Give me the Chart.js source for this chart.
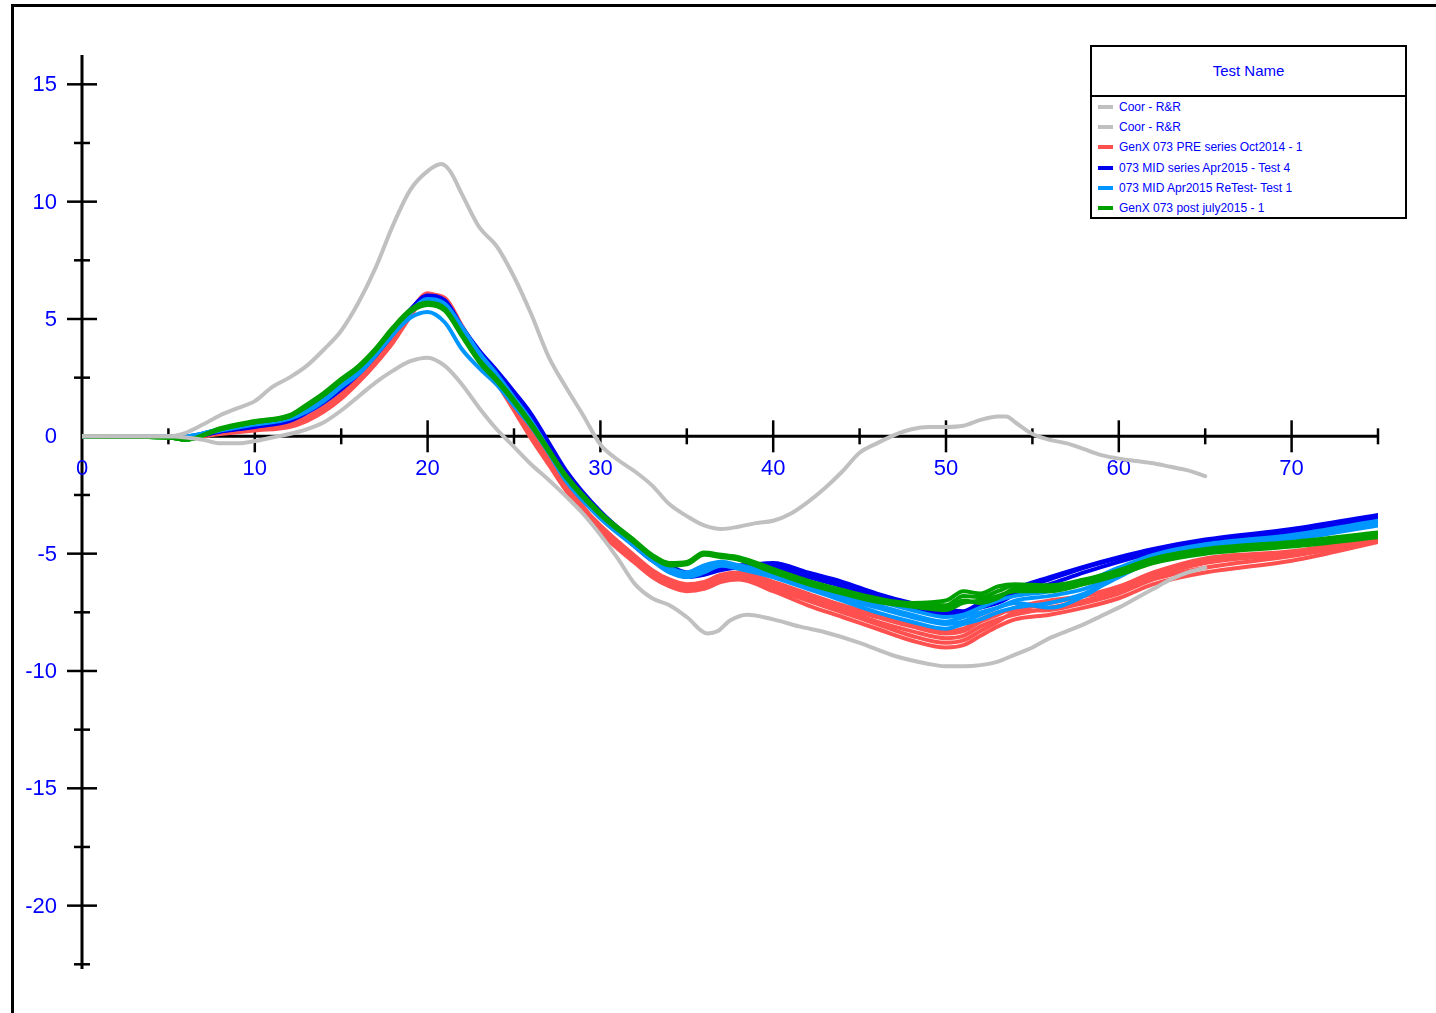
<!DOCTYPE html>
<html>
<head>
<meta charset="utf-8">
<script src="https://cdn.jsdelivr.net/npm/chart.js@4.4.1/dist/chart.umd.min.js"></script>
<style>
html,body{margin:0;padding:0;background:#fff;}
#wrap{position:relative;width:1436px;height:1013px;overflow:hidden;}
#chartBox{position:absolute;left:0;top:0;width:1436px;height:1013px;}
#legend{position:absolute;left:1090px;top:45px;width:313px;height:170px;border:2px solid #000;background:#fff;
  font-family:"Liberation Sans",Arial,Helvetica,sans-serif;color:#0000ff;}
#legend .title{height:48px;border-bottom:2px solid #000;text-align:center;line-height:48px;font-size:15px;}
#legend .row{position:relative;height:20.2px;line-height:20.2px;font-size:12px;white-space:nowrap;}
#legend .sw{position:absolute;left:6px;top:8px;width:15px;height:4px;}
#legend .lb{position:absolute;left:27px;top:0;}
</style>
</head>
<body>
<div id="wrap">
  <div id="chartBox"><canvas id="c"></canvas></div>
  <div id="legend"><div class="title">Test Name</div><div id="rows"></div></div>
</div>
<script>
// ---------------- DATA ----------------
const legendTitle = "Test Name";
const seriesNames = ["Coor - R&R","Coor - R&R","GenX 073 PRE series Oct2014 - 1","073 MID series Apr2015 - Test 4","073 MID Apr2015 ReTest- Test 1","GenX 073 post july2015 - 1"];
const seriesColors = ["#c0c0c0","#c0c0c0","#ff5050","#0000f0","#0096ff","#00a000"];

const xTickLabels = [0,10,20,30,40,50,60,70];
const xMinorTicks = [5,15,25,35,45,55,65,75];
const yTickLabels = [15,10,5,0,-5,-10,-15,-20];
const yMinorTicks = [12.5,7.5,2.5,-2.5,-7.5,-12.5,-17.5,-22.5];

// Coor - R&R (upper)
const grayUpperX = [0,5,6,7,8,9,10,11,12,13,14,15,16,17,18,19,20,20.8,21.3,22,23,24,25,26,27,28,29,30,31,32,33,34,35,36,37,38,39,40,41,42,43,44,45,46,47,48,49,50,51,52,53,53.5,54,55,56,57,58,59,60,61,62,63,64,65];
const grayUpperY = [0,0,0.15,0.5,0.9,1.2,1.5,2.1,2.5,3.0,3.7,4.5,5.7,7.2,9.0,10.5,11.3,11.6,11.3,10.3,8.9,8.1,6.8,5.2,3.4,2.1,0.9,-0.35,-1.0,-1.5,-2.1,-2.9,-3.4,-3.8,-3.95,-3.85,-3.7,-3.6,-3.3,-2.8,-2.2,-1.5,-0.7,-0.3,0.05,0.3,0.4,0.4,0.45,0.7,0.85,0.85,0.6,0.1,-0.15,-0.3,-0.55,-0.8,-0.95,-1.05,-1.15,-1.3,-1.45,-1.7];
// Coor - R&R (lower)
const grayLowerX = [0,5,6,7,8,9,10,11,12,13,14,15,16,17,18,19,20,21,22,23,24,25,26,27,28,29,30,31,32,33,34,35,36.2,36.8,37.5,38.5,40,41.5,43,45,47,49,50,51,52,53,54,55,56,57,58,59,60,61,62,63,64,65];
const grayLowerY = [0,0,-0.05,-0.15,-0.3,-0.3,-0.2,-0.05,0.1,0.3,0.6,1.1,1.7,2.3,2.8,3.2,3.35,3.0,2.2,1.2,0.3,-0.45,-1.2,-1.85,-2.55,-3.3,-4.2,-5.2,-6.3,-6.9,-7.2,-7.7,-8.4,-8.3,-7.85,-7.6,-7.8,-8.1,-8.35,-8.8,-9.35,-9.7,-9.8,-9.8,-9.75,-9.6,-9.3,-9.0,-8.6,-8.3,-8.0,-7.65,-7.3,-6.9,-6.5,-6.1,-5.8,-5.6];

// shared x grid for the test curves
const testX = [0,5,6,8,10,12,13,14,15,16,17,18,19,20,21,22,23,24,25,26,27,28,30,32,33,34,35,36,37,38,40,42,44,46,48,50,51,52,53,54,56,58,60,62,65,70,75];

// GenX 073 PRE series Oct2014 (red)
const red1 = [0,0,0,0.15,0.3,0.45,0.75,1.15,1.7,2.4,3.2,4.1,5.2,6.0,5.8,4.6,3.4,2.4,1.3,0.1,-1.0,-2.1,-3.9,-5.2,-5.8,-6.2,-6.4,-6.3,-6.0,-5.9,-6.4,-6.9,-7.4,-7.9,-8.3,-8.6,-8.5,-8.1,-7.8,-7.6,-7.3,-7.0,-6.6,-6.0,-5.4,-5.0,-4.4];
const red2 = [0,0,-0.05,0.1,0.25,0.4,0.65,1.05,1.6,2.3,3.1,4.0,5.1,6.05,5.9,4.7,3.5,2.3,1.1,-0.1,-1.2,-2.3,-4.1,-5.4,-6.0,-6.4,-6.6,-6.5,-6.2,-6.1,-6.6,-7.2,-7.7,-8.2,-8.7,-9.0,-8.9,-8.5,-8.1,-7.8,-7.6,-7.3,-6.9,-6.3,-5.8,-5.3,-4.5];
const red3 = [0,0,0,0.2,0.35,0.5,0.8,1.25,1.8,2.5,3.3,4.2,5.3,6.1,5.7,4.5,3.3,2.3,1.2,0.0,-1.1,-2.2,-3.8,-5.1,-5.7,-6.1,-6.3,-6.2,-5.9,-5.8,-6.2,-6.7,-7.2,-7.6,-8.0,-8.3,-8.2,-7.8,-7.5,-7.4,-7.1,-6.8,-6.4,-5.8,-5.2,-4.9,-4.3];
const red4 = [0,0,0,0.15,0.3,0.45,0.7,1.1,1.65,2.35,3.15,4.05,5.15,5.95,5.75,4.65,3.45,2.45,1.35,0.15,-0.95,-2.0,-3.9,-5.3,-5.9,-6.3,-6.5,-6.4,-6.1,-6.0,-6.5,-7.0,-7.5,-8.0,-8.5,-8.8,-8.7,-8.3,-7.9,-7.5,-7.4,-7.1,-6.7,-6.1,-5.6,-5.1,-4.45];
const red5 = [0,0,0,0.2,0.35,0.5,0.8,1.2,1.75,2.45,3.25,4.15,5.2,5.9,5.6,4.5,3.3,2.35,1.25,0.05,-1.05,-2.15,-3.85,-5.15,-5.75,-6.15,-6.35,-6.25,-5.95,-5.85,-6.3,-6.8,-7.3,-7.7,-8.1,-8.4,-8.3,-7.9,-7.6,-7.3,-7.0,-6.8,-6.5,-5.9,-5.3,-4.95,-4.35];

// 073 MID series Apr2015 (blue)
const blue1 = [0,0,-0.05,0.2,0.45,0.7,1.05,1.5,2.05,2.7,3.5,4.4,5.35,5.95,5.75,4.6,3.6,2.75,1.85,0.9,-0.3,-1.5,-3.3,-4.6,-5.2,-5.6,-5.9,-5.8,-5.6,-5.55,-5.45,-5.9,-6.3,-6.8,-7.2,-7.5,-7.5,-7.2,-7.0,-6.6,-6.1,-5.6,-5.2,-4.85,-4.45,-4.0,-3.4];
const blue2 = [0,0,-0.05,0.2,0.4,0.65,1.0,1.45,2.0,2.65,3.45,4.35,5.3,5.9,5.7,4.55,3.5,2.65,1.75,0.8,-0.4,-1.6,-3.4,-4.7,-5.3,-5.7,-6.0,-5.9,-5.7,-5.6,-5.6,-6.0,-6.4,-6.9,-7.3,-7.6,-7.6,-7.3,-7.1,-6.75,-6.3,-5.8,-5.35,-4.95,-4.55,-4.1,-3.5];
const blue3 = [0,0,-0.05,0.25,0.45,0.7,1.1,1.55,2.1,2.75,3.55,4.45,5.4,6.0,5.8,4.65,3.65,2.8,1.9,0.95,-0.25,-1.45,-3.2,-4.5,-5.1,-5.5,-5.8,-5.7,-5.5,-5.5,-5.4,-5.8,-6.2,-6.7,-7.1,-7.4,-7.45,-7.1,-6.9,-6.5,-6.0,-5.55,-5.15,-4.8,-4.4,-3.95,-3.35];

// 073 MID Apr2015 ReTest (light blue)
const lblue1 = [0,0,0,0.3,0.55,0.8,1.1,1.55,2.15,2.7,3.5,4.4,5.3,5.8,5.6,4.6,3.5,2.6,1.6,0.6,-0.6,-1.8,-3.4,-4.6,-5.2,-5.7,-5.9,-5.6,-5.4,-5.6,-5.9,-6.3,-6.8,-7.2,-7.6,-7.9,-7.7,-7.5,-7.3,-7.1,-7.3,-6.8,-5.9,-5.2,-4.7,-4.3,-3.7];
const lblue2 = [0,0,0,0.3,0.55,0.8,1.1,1.55,2.15,2.7,3.5,4.35,5.05,5.3,4.85,3.7,2.9,2.2,1.3,0.4,-0.7,-1.9,-3.5,-4.7,-5.3,-5.8,-6.0,-5.8,-5.5,-5.5,-6.0,-6.5,-7.0,-7.5,-7.9,-8.2,-8.0,-7.8,-7.5,-7.3,-7.1,-6.7,-6.0,-5.3,-4.8,-4.4,-3.8];
const lblue3 = [0,0,0,0.25,0.5,0.75,1.05,1.5,2.1,2.65,3.45,4.35,5.25,5.75,5.55,4.5,3.45,2.55,1.55,0.55,-0.65,-1.85,-3.45,-4.65,-5.25,-5.75,-5.95,-5.7,-5.5,-5.65,-6.0,-6.4,-6.9,-7.3,-7.7,-8.0,-7.9,-7.6,-7.3,-7.0,-6.8,-6.5,-5.9,-5.2,-4.75,-4.35,-3.75];
const lblue4 = [0,0,0,0.3,0.55,0.8,1.15,1.6,2.2,2.75,3.55,4.4,5.3,5.85,5.65,4.65,3.55,2.65,1.65,0.65,-0.55,-1.75,-3.35,-4.55,-5.15,-5.6,-5.8,-5.5,-5.35,-5.5,-5.8,-6.2,-6.6,-7.0,-7.4,-7.7,-7.6,-7.3,-7.0,-6.8,-6.6,-6.2,-5.6,-5.05,-4.6,-4.2,-3.6];

// GenX 073 post july2015 (green)
const green1 = [0,-0.05,-0.15,0.3,0.6,0.85,1.3,1.8,2.4,2.95,3.7,4.6,5.35,5.65,5.4,4.3,3.2,2.4,1.5,0.5,-0.6,-1.7,-3.3,-4.5,-5.1,-5.45,-5.4,-5.0,-5.1,-5.2,-5.7,-6.2,-6.6,-6.95,-7.15,-7.2,-6.8,-6.85,-6.6,-6.35,-6.4,-6.2,-5.8,-5.3,-4.9,-4.6,-4.2];
const green2 = [0,-0.05,-0.15,0.3,0.6,0.85,1.25,1.75,2.35,2.9,3.65,4.55,5.3,5.6,5.35,4.25,3.15,2.35,1.45,0.45,-0.65,-1.75,-3.35,-4.55,-5.15,-5.5,-5.45,-5.05,-5.15,-5.25,-5.8,-6.3,-6.7,-7.05,-7.25,-7.4,-7.1,-7.0,-6.8,-6.6,-6.6,-6.3,-5.9,-5.4,-5.0,-4.7,-4.3];
const green3 = [0,-0.05,-0.15,0.35,0.65,0.9,1.35,1.85,2.45,3.0,3.75,4.65,5.4,5.7,5.45,4.35,3.25,2.45,1.55,0.55,-0.55,-1.65,-3.25,-4.45,-5.05,-5.4,-5.35,-4.95,-5.05,-5.15,-5.65,-6.15,-6.55,-6.9,-7.1,-7.0,-6.6,-6.7,-6.4,-6.3,-6.35,-6.1,-5.7,-5.2,-4.8,-4.5,-4.1];
const green4 = [0,-0.05,-0.15,0.3,0.6,0.85,1.3,1.8,2.4,2.95,3.7,4.6,5.35,5.65,5.4,4.3,3.2,2.4,1.5,0.5,-0.6,-1.7,-3.3,-4.5,-5.1,-5.45,-5.4,-5.0,-5.1,-5.25,-5.75,-6.25,-6.65,-7.0,-7.2,-7.3,-7.0,-7.1,-6.9,-6.5,-6.5,-6.25,-5.85,-5.35,-4.95,-4.65,-4.25];

// ---------------- BUILD ----------------
function pts(xs, ys){ return xs.map((x,i)=>({x:x, y:ys[i]})); }
function ds(xs, ys, color, order, width){
  return {data:pts(xs,ys), borderColor:color, backgroundColor:color, borderWidth:width||4,
          pointRadius:0, fill:false, cubicInterpolationMode:'monotone', order:order,
          borderJoinStyle:'round', borderCapStyle:'round'};
}
const datasets = [];
datasets.push(ds(grayUpperX, grayUpperY, seriesColors[0], 0, 4));
datasets.push(ds(grayLowerX, grayLowerY, seriesColors[1], 0, 4));
[red1,red2,red3,red4,red5].forEach(a=>datasets.push(ds(testX,a,seriesColors[2],4)));
[blue1,blue2,blue3].forEach(a=>datasets.push(ds(testX,a,seriesColors[3],3)));
[lblue1,lblue2,lblue3,lblue4].forEach(a=>datasets.push(ds(testX,a,seriesColors[4],2)));
[green1,green2,green3,green4].forEach(a=>datasets.push(ds(testX,a,seriesColors[5],1)));

// legend rows (HTML text)
const rows = document.getElementById('rows');
seriesNames.forEach((n,i)=>{
  const r = document.createElement('div'); r.className='row';
  const s = document.createElement('span'); s.className='sw'; s.style.background = seriesColors[i];
  const l = document.createElement('span'); l.className='lb'; l.textContent = n;
  r.appendChild(s); r.appendChild(l); rows.appendChild(r);
});

const axesPlugin = {
  id:'crossAxes',
  beforeDatasetsDraw(chart){
    const ctx = chart.ctx, sx = chart.scales.x, sy = chart.scales.y, ca = chart.chartArea;
    ctx.save();
    // outer frame
    ctx.strokeStyle = '#000'; ctx.lineWidth = 3; ctx.lineCap='butt';
    ctx.beginPath(); ctx.moveTo(12.5, 1013); ctx.lineTo(12.5, 5.5); ctx.lineTo(1436, 5.5); ctx.stroke();
    const x0 = sx.getPixelForValue(0), y0 = sy.getPixelForValue(0);
    // y axis
    ctx.beginPath(); ctx.moveTo(x0, ca.top); ctx.lineTo(x0, ca.bottom); ctx.stroke();
    // x axis
    ctx.beginPath(); ctx.moveTo(x0, y0); ctx.lineTo(sx.getPixelForValue(xMinorTicks[xMinorTicks.length-1]), y0); ctx.stroke();
    ctx.lineWidth = 2.5;
    // y ticks
    yTickLabels.forEach(v=>{ if(v===0) return; const p = sy.getPixelForValue(v);
      ctx.beginPath(); ctx.moveTo(x0-15, p); ctx.lineTo(x0+15, p); ctx.stroke(); });
    yMinorTicks.forEach(v=>{ const p = sy.getPixelForValue(v);
      ctx.beginPath(); ctx.moveTo(x0-8, p); ctx.lineTo(x0+8, p); ctx.stroke(); });
    // x ticks
    xTickLabels.forEach(v=>{ if(v===0) return; const p = sx.getPixelForValue(v);
      ctx.beginPath(); ctx.moveTo(p, y0-16); ctx.lineTo(p, y0+16); ctx.stroke(); });
    xMinorTicks.forEach(v=>{ const p = sx.getPixelForValue(v);
      ctx.beginPath(); ctx.moveTo(p, y0-8); ctx.lineTo(p, y0+8); ctx.stroke(); });
    // labels
    ctx.fillStyle = '#0000ff';
    ctx.font = '22px "Liberation Sans", Arial, sans-serif';
    ctx.textAlign = 'right'; ctx.textBaseline = 'middle';
    yTickLabels.forEach(v=>{ ctx.fillText(String(v), 57, sy.getPixelForValue(v)+1); });
    ctx.textAlign = 'center';
    xTickLabels.forEach(v=>{ ctx.fillText(String(v), sx.getPixelForValue(v), y0+33); });
    ctx.restore();
  }
};

new Chart(document.getElementById('c'), {
  type:'line',
  data:{datasets:datasets},
  options:{
    responsive:true, maintainAspectRatio:false, animation:false, events:[],
    layout:{padding:{left:82, right:58, top:55, bottom:44}},
    plugins:{legend:{display:false}, tooltip:{enabled:false}},
    scales:{
      x:{type:'linear', min:0, max:75, display:false},
      y:{type:'linear', min:-22.7, max:16.25, display:false}
    }
  },
  plugins:[axesPlugin]
});
</script>
</body>
</html>
